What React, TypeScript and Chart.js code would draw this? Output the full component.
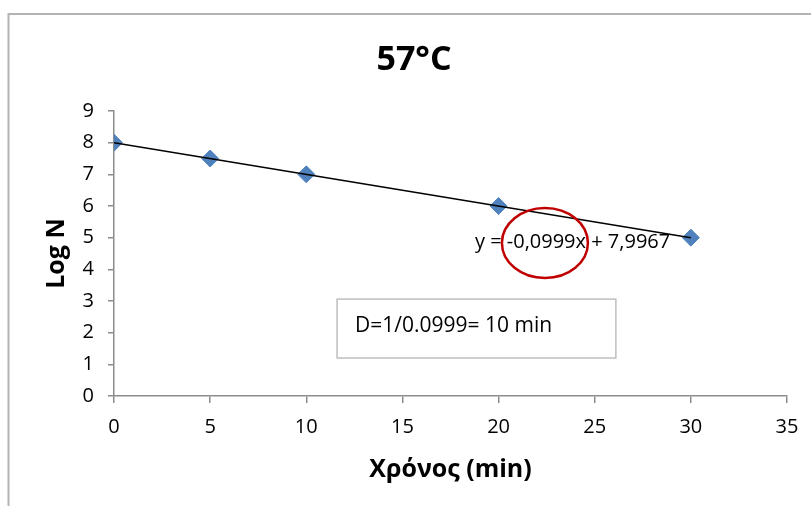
import React, { useEffect, useRef } from "react";
import { Chart, registerables } from "chart.js";

Chart.register(...registerables);

// ---- data ----
const timeMin = [0, 5, 10, 20, 30];
const logN = [8, 7.5, 7, 6, 5];
const trendSlope = -0.0999;
const trendIntercept = 7.9967;
const trendRange = [0, 30];
const xMin = 0;
const xMax = 35;
const xStep = 5;
const yMin = 0;
const yMax = 9;
const yStep = 1;

// ---- texts ----
const chartTitle = "57°C";
const xTitle = "Χρόνος (min)";
const yTitle = "Log N";
const equationText = "y = -0,0999x + 7,9967";
const noteText = "D=1/0.0999= 10 min";

const FONT = "'Open Sans', sans-serif";

const overlayPlugin = {
  id: "overlay",
  afterDatasetsDraw(chart: any) {
    const { ctx, scales } = chart;
    const xs = scales.x;
    const ys = scales.y;
    ctx.save();

    // outer chart border
    ctx.strokeStyle = "#B4B4B4";
    ctx.lineWidth = 2;
    ctx.strokeRect(8.5, 14, 1000, 1000);

    // title
    ctx.fillStyle = "#000";
    ctx.font = `bold 34px ${FONT}`;
    ctx.textAlign = "center";
    ctx.textBaseline = "alphabetic";
    ctx.fillText(chartTitle, 414, 70);

    // trendline equation
    ctx.font = `20px ${FONT}`;
    ctx.textAlign = "left";
    ctx.fillText(equationText, xs.getPixelForValue(18.77), ys.getPixelForValue(4.67));

    // red ellipse
    ctx.beginPath();
    ctx.strokeStyle = "#C00000";
    ctx.lineWidth = 2.5;
    ctx.ellipse(xs.getPixelForValue(22.41), ys.getPixelForValue(4.83), 43, 35, 0, 0, Math.PI * 2);
    ctx.stroke();

    // text box
    const bx1 = xs.getPixelForValue(11.6);
    const bx2 = xs.getPixelForValue(26.1);
    const by1 = ys.getPixelForValue(3.06);
    const by2 = ys.getPixelForValue(1.2);
    ctx.fillStyle = "#fff";
    ctx.fillRect(bx1, by1, bx2 - bx1, by2 - by1);
    ctx.strokeStyle = "#BFBFBF";
    ctx.lineWidth = 1.5;
    ctx.strokeRect(bx1, by1, bx2 - bx1, by2 - by1);
    ctx.fillStyle = "#000";
    ctx.font = `21px ${FONT}`;
    ctx.fillText(noteText, bx1 + 18, ys.getPixelForValue(2.02));

    ctx.restore();
  },
};

export default function App() {
  const canvasRef = useRef<HTMLCanvasElement | null>(null);

  useEffect(() => {
    const canvas = canvasRef.current;
    if (!canvas) return;
    const points = timeMin.map((t, i) => ({ x: t, y: logN[i] }));
    const trend = trendRange.map((t) => ({ x: t, y: trendSlope * t + trendIntercept }));

    const chart = new Chart(canvas, {
      type: "scatter",
      data: {
        datasets: [
          {
            label: "trend",
            data: trend,
            showLine: true,
            borderColor: "#000",
            borderWidth: 1.5,
            pointRadius: 0,
            pointHoverRadius: 0,
          },
          {
            label: "Log N",
            data: points,
            showLine: false,
            pointStyle: "rectRot",
            pointRadius: 8.5,
            pointHoverRadius: 8.5,
            backgroundColor: "#4F81BD",
            borderColor: "#4F81BD",
            borderWidth: 1,
          },
        ],
      },
      options: {
        responsive: false,
        animation: false,
        devicePixelRatio: 1,
        layout: { padding: { left: 0, right: 24, top: 111, bottom: 0 } },
        plugins: {
          legend: { display: false },
          tooltip: { enabled: false },
          title: { display: false },
        },
        scales: {
          x: {
            type: "linear",
            min: xMin,
            max: xMax,
            afterFit: (s: any) => {
              s.height = 110;
            },
            ticks: {
              stepSize: xStep,
              color: "#000",
              font: { family: FONT, size: 20 },
              padding: 12,
              maxRotation: 0,
            },
            grid: {
              drawOnChartArea: false,
              drawTicks: true,
              tickLength: 7,
              color: "#8C8C8C",
              lineWidth: 1.5,
            },
            border: { color: "#8C8C8C", width: 1.5 },
            title: {
              display: true,
              text: xTitle,
              color: "#000",
              font: { family: FONT, size: 25, weight: "bold" },
              padding: { top: 0, bottom: 21 },
            },
          },
          y: {
            type: "linear",
            min: yMin,
            max: yMax,
            afterFit: (s: any) => {
              s.width = 114;
            },
            ticks: {
              stepSize: yStep,
              color: "#000",
              font: { family: FONT, size: 20 },
              padding: 14,
            },
            grid: {
              drawOnChartArea: false,
              drawTicks: true,
              tickLength: 6,
              color: "#8C8C8C",
              lineWidth: 1.5,
            },
            border: { color: "#8C8C8C", width: 1.5 },
            title: {
              display: true,
              text: yTitle,
              color: "#000",
              font: { family: FONT, size: 25, weight: "bold" },
              padding: { top: 42, bottom: 0 },
            },
          },
        },
      },
      plugins: [overlayPlugin],
    });

    return () => chart.destroy();
  }, []);

  return (
    <div style={{ position: "absolute", left: 0, top: 0, width: 811, height: 506, background: "#fff" }}>
      <canvas ref={canvasRef} width={811} height={506} />
    </div>
  );
}
